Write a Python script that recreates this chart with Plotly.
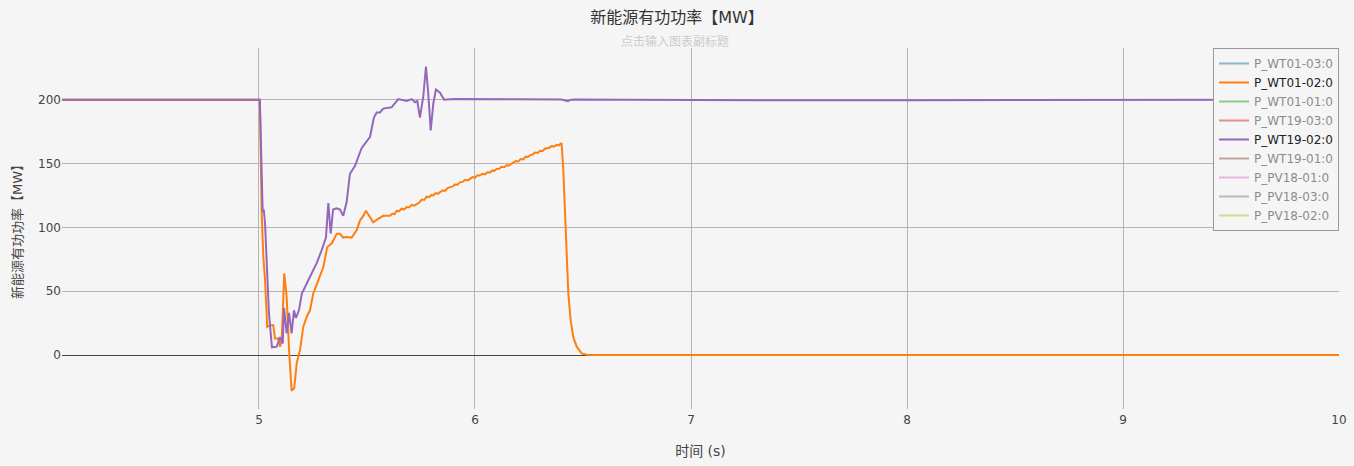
import plotly.graph_objects as go

# ---- data ----
trace_names = ["P_WT01-03:0", "P_WT01-02:0", "P_WT01-01:0", "P_WT19-03:0", "P_WT19-02:0",
               "P_WT19-01:0", "P_PV18-01:0", "P_PV18-03:0", "P_PV18-02:0"]
trace_colors = ["#1f77b4", "#ff7f0e", "#2ca02c", "#d62728", "#9467bd",
                "#8c564b", "#e377c2", "#7f7f7f", "#bcbd22"]

t_wt19_02 = [4.0, 5.0, 5.004, 5.017, 5.022, 5.028, 5.046, 5.060, 5.082, 5.097, 5.110, 5.116,
             5.128, 5.139, 5.151, 5.162, 5.171, 5.185, 5.198, 5.221, 5.244, 5.267, 5.290,
             5.310, 5.321, 5.332, 5.343, 5.360, 5.375, 5.390, 5.406, 5.421, 5.444, 5.475,
             5.514, 5.532, 5.545, 5.560, 5.575, 5.614, 5.645, 5.684, 5.707, 5.722, 5.733,
             5.745, 5.761, 5.773, 5.784, 5.795, 5.807, 5.819, 5.838, 5.857, 5.900, 6.0,
             6.2, 6.40, 6.43, 6.445, 6.46, 6.7, 7.0, 7.5, 8.0, 8.5, 8.8, 9.0, 9.5, 10.0]
p_wt19_02 = [200, 200, 200, 112, 114, 103, 33, 6, 6.5, 14, 9, 37,
             17, 33, 17, 35, 29, 35, 48, 56, 64, 72, 82,
             92, 119, 95, 114, 115, 114, 109, 120, 142, 148, 162,
             171, 186, 190, 190, 193, 194, 200.5, 199, 200.5, 198, 199,
             186, 203, 226, 204, 176, 197, 208, 205.5, 200, 200.5, 200.3,
             200.3, 200.2, 198.8, 200, 200.2, 200, 199.6, 199.5, 199.6, 199.7, 200, 200, 200, 200]

t_wt01_02 = [4.0, 5.0, 5.004, 5.0125, 5.017, 5.020, 5.028, 5.038, 5.051, 5.066, 5.074, 5.089,
             5.097, 5.105, 5.117, 5.128, 5.140, 5.151, 5.163, 5.175, 5.190, 5.205, 5.221,
             5.236, 5.251, 5.275, 5.298, 5.316, 5.337, 5.360, 5.375, 5.390, 5.406, 5.429,
             5.452, 5.468, 5.483, 5.495, 5.514, 5.529, 5.552, 5.575,
             5.606, 5.618, 5.627, 5.637, 5.648, 5.660, 5.672, 5.684, 5.696, 5.707, 5.719,
             5.730, 5.742, 5.753, 5.765, 5.776, 5.788, 5.798, 5.807, 5.818, 5.828, 5.838,
             5.850, 5.861, 5.873, 5.884, 5.896, 5.907, 5.919, 5.931, 5.943, 5.954, 5.966,
             5.977, 5.989, 6.000, 6.012, 6.023, 6.035, 6.046, 6.058, 6.069, 6.081, 6.090,
             6.100, 6.112, 6.123, 6.135, 6.146, 6.158, 6.169, 6.177, 6.189, 6.200, 6.212,
             6.223, 6.235, 6.246, 6.255, 6.267, 6.278, 6.290, 6.301, 6.313, 6.324, 6.332,
             6.344, 6.355, 6.367, 6.378, 6.390, 6.396, 6.401,
             6.409, 6.417, 6.424, 6.432, 6.443, 6.455, 6.471, 6.494, 6.517, 6.55, 7.0, 8.0, 9.0, 10.0]
p_wt01_02 = [200, 200, 200, 111, 92, 77, 59, 22, 23.4, 23.4, 13, 13,
             6.5, 11.7, 64, 45.6, 1.5, -28, -26, -6, 4, 22, 30,
             35, 48, 59, 69, 84.6, 87.5, 95, 95, 92, 92.5, 92,
             97.6, 105.5, 109, 113, 108, 104, 106.7, 109,
             109, 110.8, 110.2, 113, 112.6, 114.6, 114.0, 116, 115.8, 117.6, 117.0,
             118.5, 119.4, 121.8, 121.5, 124, 123.6, 125.4, 125, 126.8, 126.3, 127.6,
             128.9, 128.6, 130.8, 131.5, 131.9, 133.6, 133.4, 135.4, 135.6, 137.2, 136.8,
             138, 139.4, 139.0, 140.8, 140.6, 142.0, 141.5, 143.2, 143, 144.6, 144.2,
             145.8, 145.9, 147.4, 147.1, 148.6, 148.4, 150.2, 150.8, 151.9, 151.6, 153.5,
             153.2, 155.4, 155.2, 156.6, 157.0, 158.6, 158.3, 160.0, 159.8, 161.6, 161.9,
             162.4, 163.6, 163.3, 164.6, 164.4, 165.6, 165.4,
             144.5, 105, 74, 48, 27, 14, 6.5, 1.3, 0.2, 0, 0, 0, 0, 0]

series_t = {"P_WT01-02:0": t_wt01_02, "P_WT19-02:0": t_wt19_02}
series_p = {"P_WT01-02:0": p_wt01_02, "P_WT19-02:0": p_wt19_02}

title_text = "新能源有功功率【MW】"
subtitle_text = "点击输入图表副标题"
x_title = "时间 (s)"
y_title = "新能源有功功率【MW】"
x_ticks = [5, 6, 7, 8, 9, 10]
y_ticks = [0, 50, 100, 150, 200]

# ---- figure ----
FONT = "DejaVu Sans, Noto Sans CJK SC, sans-serif"
BG = "#f5f5f5"

fig = go.Figure()
for name, color in zip(trace_names, trace_colors):
    visible = name in series_t
    fig.add_trace(go.Scatter(
        x=series_t.get(name, [None]),
        y=series_p.get(name, [None]),
        mode="lines",
        name=name,
        line=dict(color=color, width=2),
        visible=True if visible else "legendonly",
    ))

fig.update_layout(
    width=1354, height=466,
    margin=dict(l=62, r=15, t=48, b=57),
    paper_bgcolor=BG, plot_bgcolor=BG,
    font=dict(family=FONT, size=12, color="#444"),
    title=dict(text=title_text, x=0.5, xanchor="center", y=1 - 17 / 466, yanchor="middle",
               yref="container", font=dict(size=16, color="#333")),
    showlegend=True,
    legend=dict(x=1, xanchor="right", y=1, yanchor="top",
                bgcolor=BG, bordercolor="#999", borderwidth=1,
                font=dict(size=12, color="#222"), tracegroupgap=0),
    annotations=[dict(text=subtitle_text, xref="paper", yref="paper", x=0.48, y=1,
                      xanchor="center", yanchor="bottom", showarrow=False, yshift=-3,
                      font=dict(size=12, color="#cccccc"))],
)
fig.update_xaxes(range=[4.088, 10], tickvals=x_ticks, showgrid=True, gridcolor="#b4b4b4",
                 gridwidth=1, zeroline=False, showline=False, ticks="", ticklabelstandoff=2,
                 automargin=False,
                 title=dict(text=x_title, standoff=20, font=dict(size=14)))
fig.update_yaxes(range=[-42.3, 240.5], tickvals=y_ticks, showgrid=True, gridcolor="#b4b4b4",
                 gridwidth=1, zeroline=True, zerolinecolor="#444", zerolinewidth=1,
                 showline=False, ticks="", automargin=False,
                 title=dict(text=y_title, standoff=12, font=dict(size=13)))

fig.write_html("out.html", config={"displayModeBar": False},
               post_script="document.body.style.margin='0';")
